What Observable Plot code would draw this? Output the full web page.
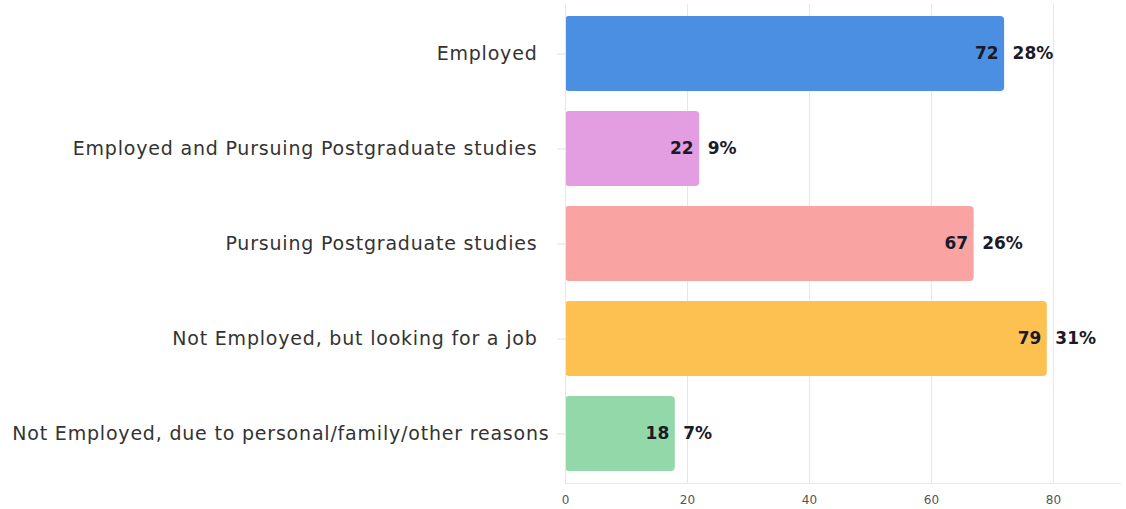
<!DOCTYPE html>
<html><head><meta charset="utf-8">
<script src="https://cdn.jsdelivr.net/npm/d3@7"></script>
<script src="https://cdn.jsdelivr.net/npm/@observablehq/plot@0.6"></script>
<style>
html,body{margin:0;padding:0;background:#fff;}
#chart{width:1126px;height:509px;}
</style></head>
<body><div id="chart"></div>
<script>
const categories = [
  "Employed",
  "Employed and Pursuing Postgraduate studies",
  "Pursuing Postgraduate studies",
  "Not Employed, but looking for a job",
  "Not Employed, due to personal/family/other reasons"
];
const counts = [72, 22, 67, 79, 18];
const percents = ["28%", "9%", "26%", "31%", "7%"];
const colors = ["#4a8fe2", "#e29ee0", "#f9a3a2", "#fdc152", "#93d8a9"];
const xTicks = [0, 20, 40, 60, 80];

const data = categories.map((c, i) => ({category: c, count: counts[i], pct: percents[i], color: colors[i]}));

const chart = Plot.plot({
  width: 1126,
  height: 509,
  marginLeft: 565,
  marginRight: 6,
  marginTop: 4,
  marginBottom: 26,
  style: {fontFamily: "'DejaVu Sans', sans-serif", background: "#fff"},
  x: {domain: [0, 91], ticks: xTicks, label: null},
  y: {domain: categories, paddingInner: 0.21, paddingOuter: 0.1, label: null},
  marks: [
    Plot.gridX(xTicks, {stroke: "#e6e6ee", strokeOpacity: 1}),
    Plot.frame({anchor: "bottom", stroke: "#e6e6ee"}),
    Plot.barX(data, {y: "category", x: "count", fill: "color", rx: 4}),
    Plot.text(data, {y: "category", x: "count", text: d => String(d.count), textAnchor: "end", dx: -6, fontSize: 17, fontWeight: 600, fill: "#1a1a2a"}),
    Plot.text(data, {y: "category", x: "count", text: "pct", textAnchor: "start", dx: 8, fontSize: 17, fontWeight: 600, fill: "#1a1a2a"}),
    Plot.axisX({ticks: xTicks, tickSize: 0, tickPadding: 12, fontSize: 12, fill: "#555", label: null}),
    Plot.axisY({ticks: categories.slice(0, 4), tickSize: 8, tickPadding: 20, fontSize: 19, fill: "#333", stroke: "#e0e0e6", label: null}),
    Plot.axisY({ticks: categories.slice(4), tickSize: 8, tickPadding: 8, fontSize: 19, fill: "#333", stroke: "#e0e0e6", label: null}),
    Plot.ruleX([0], {stroke: "#e6e6ee"})
  ]
});
document.getElementById("chart").appendChild(chart);
chart.querySelectorAll('g[aria-label="y-axis tick label"] text').forEach(t => t.style.letterSpacing = "0.8px");
</script></body></html>
